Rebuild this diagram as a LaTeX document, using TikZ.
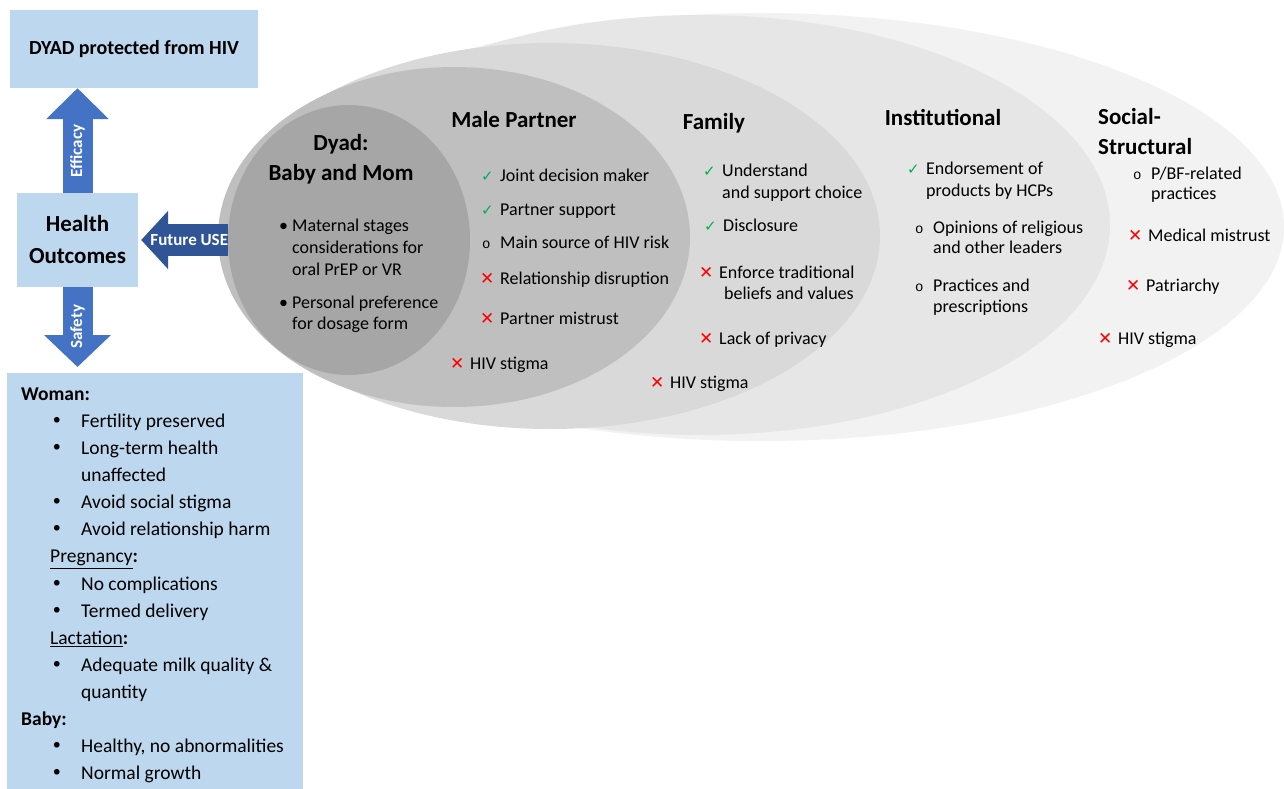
\documentclass[tikz,border=0pt]{standalone}
\usepackage{fontspec}
\setmainfont{Carlito}
\newfontfamily\dvfont{DejaVu Sans}
\newfontfamily\ringfont{Liberation Mono}
\usetikzlibrary{shapes.geometric,arrows.meta,positioning}

\definecolor{boxblue}{HTML}{BDD7EE}
\definecolor{arrblue}{HTML}{4472C4}
\definecolor{arrdark}{HTML}{2F5597}
\definecolor{lvdyad}{HTML}{A6A6A6}
\definecolor{lvmale}{HTML}{BFBFBF}
\definecolor{lvfam}{HTML}{D9D9D9}
\definecolor{lvinst}{HTML}{E6E6E6}
\definecolor{lvsoc}{HTML}{F2F2F2}
\definecolor{okgreen}{HTML}{00B050}
\definecolor{nored}{HTML}{FF0000}

% list markers
\newcommand{\yes}{\llap{\makebox[19pt][l]{\color{okgreen}\dvfont\fontsize{15}{15}\selectfont ✓}}}
\newcommand{\nope}{\llap{\makebox[20pt][l]{\color{nored}\dvfont\fontsize{17}{17}\selectfont ✕}}}
\newcommand{\maybe}{\llap{\makebox[18pt][l]{\ringfont\fontsize{14}{14}\selectfont o}}}
\newcommand{\smalldot}{\llap{\makebox[13pt][l]{•}}}
\newcommand{\bul}{\hspace*{30pt}\makebox[30pt][l]{\dvfont •}}
\newcommand{\ind}{\hspace*{60pt}}

\tikzset{
  lay/.style={ellipse, inner sep=0pt},
  bbox/.style={fill=boxblue, inner sep=0pt},
  head/.style={anchor=base, align=center, inner sep=0pt, font=\bfseries\fontsize{23}{30}\selectfont},
  item/.style={anchor=base west, align=left, inner sep=0pt, font=\fontsize{18}{21.5}\selectfont},
  fat/.style={line width=30pt, -{Triangle[width=61pt,length=31pt]}},
  arrtext/.style={text=white, inner sep=0pt, font=\bfseries\fontsize{17}{17}\selectfont},
}

\begin{document}
\begin{tikzpicture}[x=1pt,y=-1pt]
\path[use as bounding box, fill=white] (0,0) rectangle (1284,789);

%%%%%%%%%%%%%%% levels
\node[lay, fill=lvsoc, minimum width=1048, minimum height=428] (soc) at (760,227) {};
\node[lay, fill=lvinst, minimum width=820, minimum height=420] (inst) at (700,225) {};
\node[lay, fill=lvfam, minimum width=660, minimum height=386] (fam) at (550,236) {};
\node[lay, fill=lvmale, minimum width=472, minimum height=340] (mp) at (454,237) {};
\node[lay, fill=lvdyad, minimum width=242, minimum height=270] (dy) at (349,240) {};

%%%%%%%%%%%%%%% outcome boxes
\node[bbox, minimum width=248, minimum height=78, font=\bfseries\fontsize{20}{24}\selectfont] (top) at (134,49) {DYAD protected from HIV};
\node[bbox, minimum width=121, minimum height=94, align=center, font=\bfseries\fontsize{23}{32}\selectfont] (ho) at (77.5,240) {Health\\Outcomes};
\node[bbox, minimum width=296, minimum height=416, anchor=north west] (out) at (7,373) {};
\node[anchor=north west, align=left, inner sep=0pt, font=\fontsize{19.5}{27.1}\selectfont] (outtxt) at ([shift={(14,14.5)}]out.north west) {%
\textbf{Woman:}\\
\bul Fertility preserved\\
\bul Long-term health\\
\ind unaffected\\
\bul Avoid social stigma\\
\bul Avoid relationship harm\\
\hspace*{29pt}\underline{Pregnancy}\textbf{:}\\
\bul No complications\\
\bul Termed delivery\\
\hspace*{29pt}\underline{Lactation}\textbf{:}\\
\bul Adequate milk quality \&\\
\ind quantity\\
\textbf{Baby:}\\
\bul Healthy, no abnormalities\\
\bul Normal growth};

%%%%%%%%%%%%%%% block arrows
\draw[fat, arrblue] (ho.north) -- (ho.north |- top.south)
  node[pos=.4, rotate=90, arrtext] (eff) {Efficacy};
\draw[fat, arrblue, -{Triangle[width=65pt,length=32pt]}, shorten >=6pt] (ho.south) -- (ho.south |- out.north)
  node[pos=.46, rotate=90, arrtext] (saf) {Safety};
\draw[fat, arrdark, line width=32pt, -{Triangle[width=57pt,length=27pt]}, shorten >=3pt] (dy.west) -- (ho.east)
  node[pos=.43, arrtext] (fut) {Future USE};

%%%%%%%%%%%%%%% headings (base = last line)
\node[head] (hdy) at (341,180) {Dyad:\\Baby and Mom};
\node[head] (hmp) at (514,128) {Male Partner};
\node[head] (hfam) at (714,129) {Family};
\node[head] (hinst) at (943,125) {Institutional};
\node[head, anchor=base west, align=left] (hsoc) at (1098,154) {Social-\\Structural};

%%%%%%%%%%%%%%% dyad
\node[item, font=\fontsize{18}{22}\selectfont] (dy1) at (292,275) {\smalldot Maternal stages\\considerations for\\oral PrEP or VR};
\node[item, font=\fontsize{18}{21}\selectfont] (dy2) at (292,329) {\smalldot Personal preference\\for dosage form};

%%%%%%%%%%%%%%% male partner
\node[item] (mp1) at (500,181) {\yes Joint decision maker};
\node[item] (mp2) at (500,215) {\yes Partner support};
\node[item] (mp3) at (500,248) {\maybe Main source of HIV risk};
\node[item] (mp4) at (500,284) {\nope Relationship disruption};
\node[item] (mp5) at (500,324) {\nope Partner mistrust};
\node[item] (mp6) at (470,369) {\nope HIV stigma};

%%%%%%%%%%%%%%% family
\node[item, font=\fontsize{18}{22}\selectfont] (fa1) at (722,198) {\yes Understand\\and support choice};
\node[item] (fa2) at (723,231) {\yes Disclosure};
\node[item] (fa3) at (719,299.5) {\nope Enforce traditional\\\hspace*{5pt}beliefs and values};
\node[item] (fa4) at (719,344) {\nope Lack of privacy};
\node[item] (fa5) at (670,388) {\nope HIV stigma};

%%%%%%%%%%%%%%% institutional
\node[item, font=\fontsize{18}{22}\selectfont] (in1) at (926,196) {\yes Endorsement of\\products by HCPs};
\node[item, font=\fontsize{18}{20.5}\selectfont] (in2) at (933,253.5) {\maybe Opinions of religious\\and other leaders};
\node[item] (in3) at (933,312.5) {\maybe Practices and\\prescriptions};

%%%%%%%%%%%%%%% social-structural
\node[item, font=\fontsize{18}{20.5}\selectfont] (so1) at (1151,199.5) {\maybe P/BF-related\\practices};
\node[item] (so2) at (1148,241) {\nope Medical mistrust};
\node[item] (so3) at (1146,291) {\nope Patriarchy};
\node[item] (so4) at (1118,344) {\nope HIV stigma};
\end{tikzpicture}
\end{document}
